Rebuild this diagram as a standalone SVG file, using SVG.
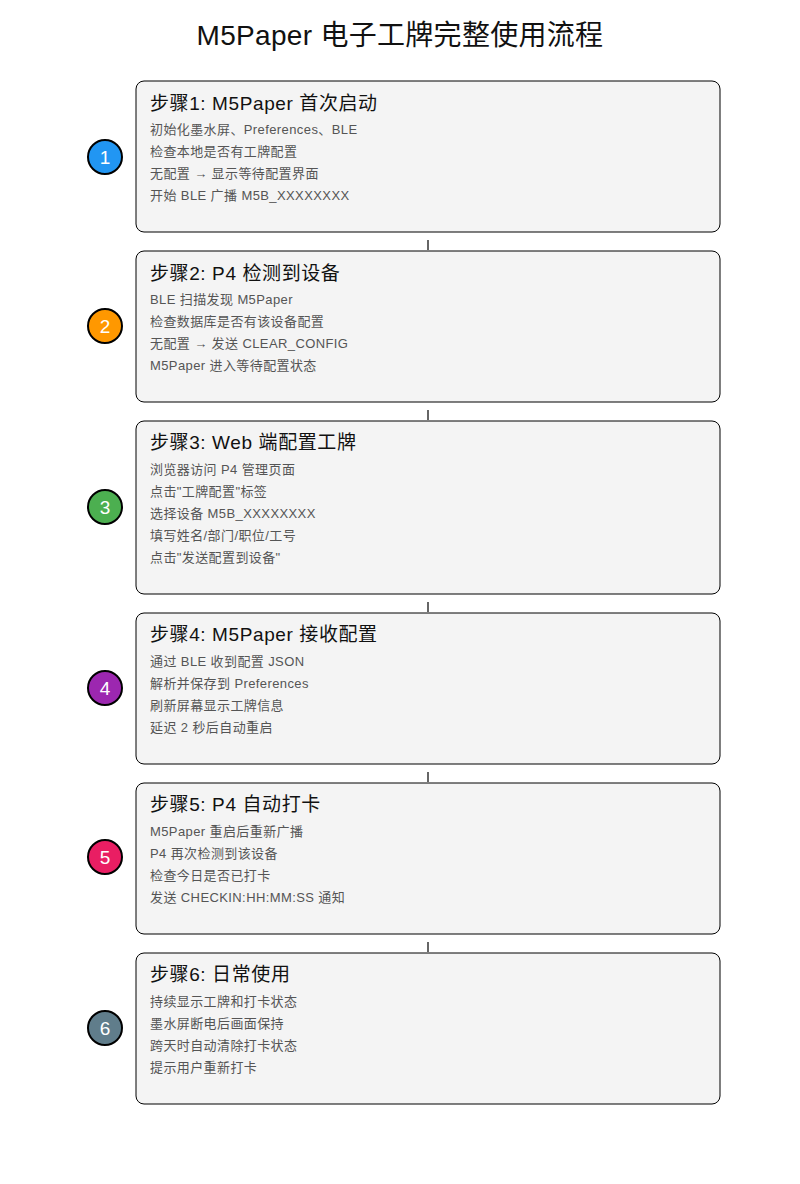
<svg xmlns="http://www.w3.org/2000/svg" width="800" height="1184" viewBox="0 0 800 1184">
<style>
text{font-family:"Liberation Sans","Noto Sans CJK SC",sans-serif}
.title{font-size:28px;fill:#111;letter-spacing:0.3px}
.box{fill:#f4f4f4;stroke:#000;stroke-width:1}
.st{font-size:19px;fill:#111;letter-spacing:0.6px}
.ln{font-size:13px;fill:#555;letter-spacing:0.4px}
.circ{stroke:#000;stroke-width:2}
.num{font-size:19px;fill:#fff;text-anchor:middle}
.conn{stroke:#666;stroke-width:2}
</style>
<rect width="800" height="1184" fill="#fff"/>
<text class="title" x="400" y="45" text-anchor="middle">M5Paper 电子工牌完整使用流程</text>
<g id="connectors">
<line class="conn" x1="428" y1="240" x2="428" y2="250"/>
<line class="conn" x1="428" y1="410" x2="428" y2="420"/>
<line class="conn" x1="428" y1="602" x2="428" y2="612"/>
<line class="conn" x1="428" y1="772" x2="428" y2="782"/>
<line class="conn" x1="428" y1="942" x2="428" y2="952"/>
</g>
<g id="step1">
<rect class="box" x="136" y="81" width="584" height="151" rx="8"/>
<circle class="circ" cx="105" cy="157" r="17" fill="#2196F3"/>
<text class="num" x="105" y="164">1</text>
<text class="st" x="150" y="110">步骤1: M5Paper 首次启动</text>
<text class="ln" x="150" y="134">初始化墨水屏、Preferences、BLE</text>
<text class="ln" x="150" y="156">检查本地是否有工牌配置</text>
<text class="ln" x="150" y="178">无配置 → 显示等待配置界面</text>
<text class="ln" x="150" y="200">开始 BLE 广播 M5B_XXXXXXXX</text>
</g>
<g id="step2">
<rect class="box" x="136" y="251" width="584" height="151" rx="8"/>
<circle class="circ" cx="105" cy="326" r="17" fill="#FF9800"/>
<text class="num" x="105" y="333">2</text>
<text class="st" x="150" y="280">步骤2: P4 检测到设备</text>
<text class="ln" x="150" y="304">BLE 扫描发现 M5Paper</text>
<text class="ln" x="150" y="326">检查数据库是否有该设备配置</text>
<text class="ln" x="150" y="348">无配置 → 发送 CLEAR_CONFIG</text>
<text class="ln" x="150" y="370">M5Paper 进入等待配置状态</text>
</g>
<g id="step3">
<rect class="box" x="136" y="421" width="584" height="173" rx="8"/>
<circle class="circ" cx="105" cy="507" r="17" fill="#4CAF50"/>
<text class="num" x="105" y="514">3</text>
<text class="st" x="150" y="449">步骤3: Web 端配置工牌</text>
<text class="ln" x="150" y="474">浏览器访问 P4 管理页面</text>
<text class="ln" x="150" y="496">点击"工牌配置"标签</text>
<text class="ln" x="150" y="518">选择设备 M5B_XXXXXXXX</text>
<text class="ln" x="150" y="540">填写姓名/部门/职位/工号</text>
<text class="ln" x="150" y="562">点击"发送配置到设备"</text>
</g>
<g id="step4">
<rect class="box" x="136" y="613" width="584" height="151" rx="8"/>
<circle class="circ" cx="105" cy="688" r="17" fill="#9C27B0"/>
<text class="num" x="105" y="695">4</text>
<text class="st" x="150" y="641">步骤4: M5Paper 接收配置</text>
<text class="ln" x="150" y="666">通过 BLE 收到配置 JSON</text>
<text class="ln" x="150" y="688">解析并保存到 Preferences</text>
<text class="ln" x="150" y="710">刷新屏幕显示工牌信息</text>
<text class="ln" x="150" y="732">延迟 2 秒后自动重启</text>
</g>
<g id="step5">
<rect class="box" x="136" y="783" width="584" height="151" rx="8"/>
<circle class="circ" cx="105" cy="857" r="17" fill="#E91E63"/>
<text class="num" x="105" y="864">5</text>
<text class="st" x="150" y="811">步骤5: P4 自动打卡</text>
<text class="ln" x="150" y="836">M5Paper 重启后重新广播</text>
<text class="ln" x="150" y="858">P4 再次检测到该设备</text>
<text class="ln" x="150" y="880">检查今日是否已打卡</text>
<text class="ln" x="150" y="902">发送 CHECKIN:HH:MM:SS 通知</text>
</g>
<g id="step6">
<rect class="box" x="136" y="953" width="584" height="151" rx="8"/>
<circle class="circ" cx="105" cy="1028" r="17" fill="#607D8B"/>
<text class="num" x="105" y="1035">6</text>
<text class="st" x="150" y="981">步骤6: 日常使用</text>
<text class="ln" x="150" y="1006">持续显示工牌和打卡状态</text>
<text class="ln" x="150" y="1028">墨水屏断电后画面保持</text>
<text class="ln" x="150" y="1050">跨天时自动清除打卡状态</text>
<text class="ln" x="150" y="1072">提示用户重新打卡</text>
</g>
</svg>
